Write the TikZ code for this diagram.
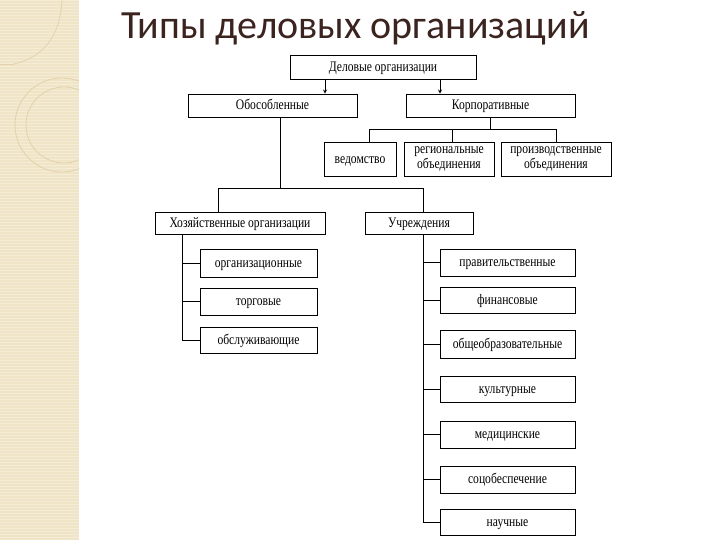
\documentclass[tikz,border=0pt]{standalone}
\usepackage{fontspec}
\setmainfont{Liberation Serif}
\newfontfamily\titlefont{Carlito}
\newfontfamily\boxfont[FakeStretch=0.8]{Liberation Serif}
\usetikzlibrary{positioning}
\definecolor{stripbeige}{HTML}{F0E4C6}
\definecolor{stripline}{HTML}{E2D2AA}
\definecolor{titlebrown}{HTML}{3B2420}

\tikzset{
  orgbox/.style={draw, line width=0.9pt, inner sep=0pt, align=center,
    font=\boxfont\fontsize{14.5}{14.5}\selectfont, text height=12pt, text depth=3.5pt},
  twobox/.style={draw, line width=0.9pt, inner sep=0pt, align=center,
    font=\boxfont\fontsize{14.5}{14.5}\selectfont},
  link/.style={line width=0.8pt},
}

\begin{document}
\begin{tikzpicture}[x=1pt,y=-1pt]
		\useasboundingbox (0,0) rectangle (720,540);
		%Left decorative strip
		\fill[stripbeige] (0,0) rectangle (79,540);
		\foreach \y in {0,3,...,540}
		\draw[white, opacity=0.3, line width=0.6pt] (0,\y) -- (79,\y);
		\draw[stripline, line width=0.7pt] (62,0) .. controls (60,40) and (40,58) .. (14,64);
		\draw[stripline, line width=0.7pt] (0,64) -- (14,64);
		\begin{scope}
		\clip (0,0) rectangle (79,540);
		\draw[stripline, line width=0.8pt] (62,125) circle (47);
		\draw[stripline, line width=0.8pt] (64,125) circle (38);
		\end{scope}
		%Title
		\node[anchor=base west, inner sep=0pt, text=titlebrown, font=\titlefont\fontsize{40}{42}\selectfont] (title) at (121,39) {Типы деловых организаций};
		%Top levels
		\node[orgbox, minimum width=186, minimum height=24] (top) at (383,67) {Деловые организации};
		\node[orgbox, minimum width=169, minimum height=23] (obos) at (272.5,105.5) {Обособленные};
		\node[orgbox, minimum width=169, minimum height=23] (korp) at (490.5,105.5) {Корпоративные};
		\draw[link, -stealth] ([xshift=-58pt]top.south) -- ([xshift=-58pt]top.south |- obos.north);
		\draw[link, -stealth] ([xshift=57pt]top.south) -- ([xshift=57pt]top.south |- korp.north);
		%Corporate branch
		\node[orgbox, minimum width=72, minimum height=34] (ved) at (360,159) {ведомство};
		\node[twobox, minimum width=90, minimum height=34] (reg) at (449,159) {региональные\\объединения};
		\node[twobox, minimum width=110, minimum height=34] (proiz) at (556,159) {производственные\\объединения};
		\draw[link] (korp.south) -- ++(0,13);
		\draw[link] ([xshift=9pt]ved.north) -- ++(0,-12) -| (proiz.north);
		\draw[link] ([xshift=3pt]reg.north) -- ++(0,-12);
		%Separate branch
		\node[orgbox, minimum width=170, minimum height=22] (hoz) at (240,223) {Хозяйственные организации};
		\node[orgbox, minimum width=108, minimum height=22] (uchr) at (419,223) {Учреждения};
		\draw[link] ([xshift=7.5pt]obos.south) -- ++(0,72);
		\draw[link] ([xshift=-22pt]hoz.north) -- ++(0,-23) -| ([xshift=4pt]uchr.north);
		%Economic organisations
		\node[orgbox, minimum width=117, minimum height=28] (org) at (258.5,263) {организационные};
		\node[orgbox, minimum width=117, minimum height=27] (torg) at (258.5,301.5) {торговые};
		\node[orgbox, minimum width=117, minimum height=26] (obsl) at (258.5,340) {обслуживающие};
		\coordinate (lspine) at ([xshift=28pt]hoz.south west);
		\draw[link] (lspine) |- (obsl.west);
		\foreach \n in {org,torg}
		\draw[link] (\n.west) -- (\n.west -| lspine);
		%Institutions
		\node[orgbox, minimum width=135, minimum height=27] (prav) at (507.5,262.5) {правительственные};
		\node[orgbox, minimum width=135, minimum height=26] (fin) at (507.5,300) {финансовые};
		\node[orgbox, minimum width=135, minimum height=28] (obsh) at (507.5,344) {общеобразовательные};
		\node[orgbox, minimum width=135, minimum height=26] (kult) at (507.5,389) {культурные};
		\node[orgbox, minimum width=135, minimum height=27] (med) at (507.5,434.5) {медицинские};
		\node[orgbox, minimum width=135, minimum height=27] (soc) at (507.5,479.5) {соцобеспечение};
		\node[orgbox, minimum width=135, minimum height=26] (nauch) at (507.5,522) {научные};
		\coordinate (rspine) at ([xshift=4.5pt]uchr.south);
		\draw[link] (rspine) |- (nauch.west);
		\foreach \n in {prav,fin,obsh,kult,med,soc}
		\draw[link] (\n.west) -- (\n.west -| rspine);
		\end{tikzpicture}
\end{document}
